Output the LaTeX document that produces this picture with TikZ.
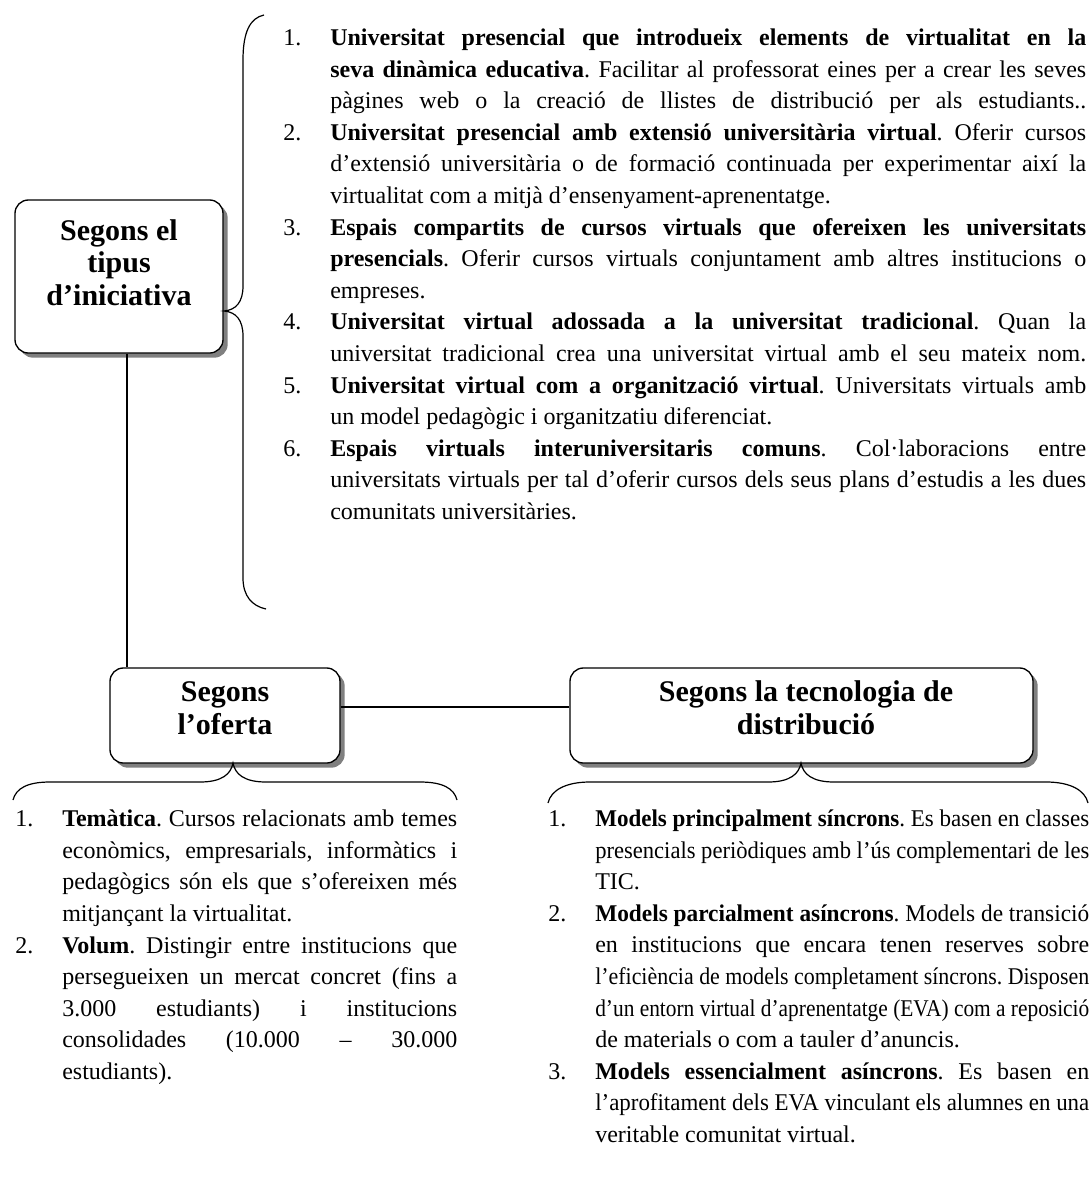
\documentclass[tikz,border=0pt]{standalone}
\usepackage{fontspec}
\setmainfont{Liberation Serif}
\usepackage{graphicx}
\usetikzlibrary{shadows}
\frenchspacing

\newlength\px \setlength\px{0.75pt}
\newsavebox\linebox
% one justified line: squeezed if too long, spread if too short
\newcommand\fitline[2]{\sbox\linebox{#2}%
  \ifdim\wd\linebox>#1\relax\resizebox{#1}{\ht\linebox}{\usebox\linebox}%
  \else\makebox[#1][s]{#2}\fi}
\newcommand\itemhead[3]{\makebox[47\px][l]{#1}\fitline{#2}{#3}}
\newcommand\itemcont[2]{\hspace*{47\px}\fitline{#1}{#2}}
\newcommand\itemend[1]{\hspace*{47\px}#1}

\tikzstyle{catbox} = [rectangle, rounded corners=10pt, draw=black, line width=1pt, fill=white, general shadow={fill=black!50, shadow xshift=3.5pt, shadow yshift=-3.5pt}]
\tikzstyle{cattext} = [align=center, inner sep=0pt, font=\fontsize{22.5}{24.4}\selectfont\bfseries]
\tikzstyle{itemtext} = [anchor=base west, inner sep=0pt, align=left, font=\fontsize{18}{23.7}\selectfont]
\tikzstyle{link} = [line width=0.9pt]
\tikzstyle{brace} = [line width=0.9pt]

\begin{document}
\begin{tikzpicture}[x=0.75pt, y=-0.75pt]
    \useasboundingbox (0,0) rectangle (1092,1196);

    \node (tipus) [catbox, minimum width=156pt, minimum height=114.75pt] at (119,276.5) {};
    \node (oferta) [catbox, minimum width=172.5pt, minimum height=71.25pt] at (225,715.5) {};
    \node (tecno) [catbox, minimum width=347.25pt, minimum height=71.25pt] at (801.5,715.5) {};

    \node (tipus_text) [cattext] at (119,262.5) {Segons el\\tipus\\d’iniciativa};
    \node (oferta_text) [cattext] at (225,708) {Segons\\l’oferta};
    \node (tecno_text) [cattext] at (806,708) {Segons la tecnologia de\\distribució};

    \draw [link] ([xshift=6pt]tipus.south) -- ([xshift=6pt]tipus.south |- oferta.north);
    \draw [link] ([yshift=6.4pt]oferta.east) -- ([yshift=6.4pt]tecno.west);

    % braces
    \draw [brace] (264,15) .. controls (250,18) and (243,32) .. (243,60) -- (243,286)
        .. controls (243,302) and (236,310) .. (224,311)
        .. controls (236,312) and (243,320) .. (243,336) -- (243,578)
        .. controls (243,596) and (252,606) .. (266,609);
    \draw [brace] (13,800) .. controls (16,788) and (28,782) .. (50,782) -- (200,782)
        .. controls (222,782) and (231,774) .. (233,763)
        .. controls (235,774) and (244,782) .. (266,782) -- (420,782)
        .. controls (442,782) and (454,788) .. (457,800);
    \draw [brace] (548,803) .. controls (551,790) and (566,782) .. (590,782) -- (768,782)
        .. controls (790,782) and (799,774) .. (801,763)
        .. controls (803,774) and (812,782) .. (834,782) -- (1046,782)
        .. controls (1070,782) and (1085,790) .. (1088,803);

    % lists (base = last line)
    \node (tipus_list) [itemtext] at (283,519.5) {%
        \itemhead{1.}{756\px}{\textbf{Universitat presencial que introdueix elements de virtualitat en la}}\\
        \itemcont{756\px}{\textbf{seva dinàmica educativa}. Facilitar al professorat eines per a crear les seves}\\
        \itemcont{756\px}{pàgines web o la creació de llistes de distribució per als estudiants..}\\
        \itemhead{2.}{756\px}{\textbf{Universitat presencial amb extensió universitària virtual}. Oferir cursos}\\
        \itemcont{756\px}{d’extensió universitària o de formació continuada per experimentar així la}\\
        \itemend{virtualitat com a mitjà d’ensenyament-aprenentatge.}\\
        \itemhead{3.}{756\px}{\textbf{Espais compartits de cursos virtuals que ofereixen les universitats}}\\
        \itemcont{756\px}{\textbf{presencials}. Oferir cursos virtuals conjuntament amb altres institucions o}\\
        \itemend{empreses.}\\
        \itemhead{4.}{756\px}{\textbf{Universitat virtual adossada a la universitat tradicional}. Quan la}\\
        \itemcont{756\px}{universitat tradicional crea una universitat virtual amb el seu mateix nom.}\\
        \itemhead{5.}{756\px}{\textbf{Universitat virtual com a organització virtual}. Universitats virtuals amb}\\
        \itemend{un model pedagògic i organitzatiu diferenciat.}\\
        \itemhead{6.}{756\px}{\textbf{Espais virtuals interuniversitaris comuns}. Col·laboracions entre}\\
        \itemcont{756\px}{universitats virtuals per tal d’oferir cursos dels seus plans d’estudis a les dues}\\
        \itemend{comunitats universitàries.}};

    \node (oferta_list) [itemtext] at (15,1079.5) {%
        \itemhead{1.}{395\px}{\textbf{Temàtica}. Cursos relacionats amb temes}\\
        \itemcont{395\px}{econòmics, empresarials, informàtics i}\\
        \itemcont{395\px}{pedagògics són els que s’ofereixen més}\\
        \itemend{mitjançant la virtualitat.}\\
        \itemhead{2.}{395\px}{\textbf{Volum}. Distingir entre institucions que}\\
        \itemcont{395\px}{persegueixen un mercat concret (fins a}\\
        \itemcont{395\px}{3.000 estudiants) i institucions}\\
        \itemcont{395\px}{consolidades (10.000 – 30.000}\\
        \itemend{estudiants).}};

    \node (tecno_list) [itemtext] at (548,1142.5) {%
        \itemhead{1.}{494\px}{\textbf{Models principalment síncrons}. Es basen en classes}\\
        \itemcont{494\px}{presencials periòdiques amb l’ús complementari de les}\\
        \itemend{TIC.}\\
        \itemhead{2.}{494\px}{\textbf{Models parcialment asíncrons}. Models de transició}\\
        \itemcont{494\px}{en institucions que encara tenen reserves sobre}\\
        \itemcont{494\px}{l’eficiència de models completament síncrons. Disposen}\\
        \itemcont{494\px}{d’un entorn virtual d’aprenentatge (EVA) com a reposició}\\
        \itemend{de materials o com a tauler d’anuncis.}\\
        \itemhead{3.}{494\px}{\textbf{Models essencialment asíncrons}. Es basen en}\\
        \itemcont{494\px}{l’aprofitament dels EVA vinculant els alumnes en una}\\
        \itemend{veritable comunitat virtual.}};

\end{tikzpicture}
\end{document}
